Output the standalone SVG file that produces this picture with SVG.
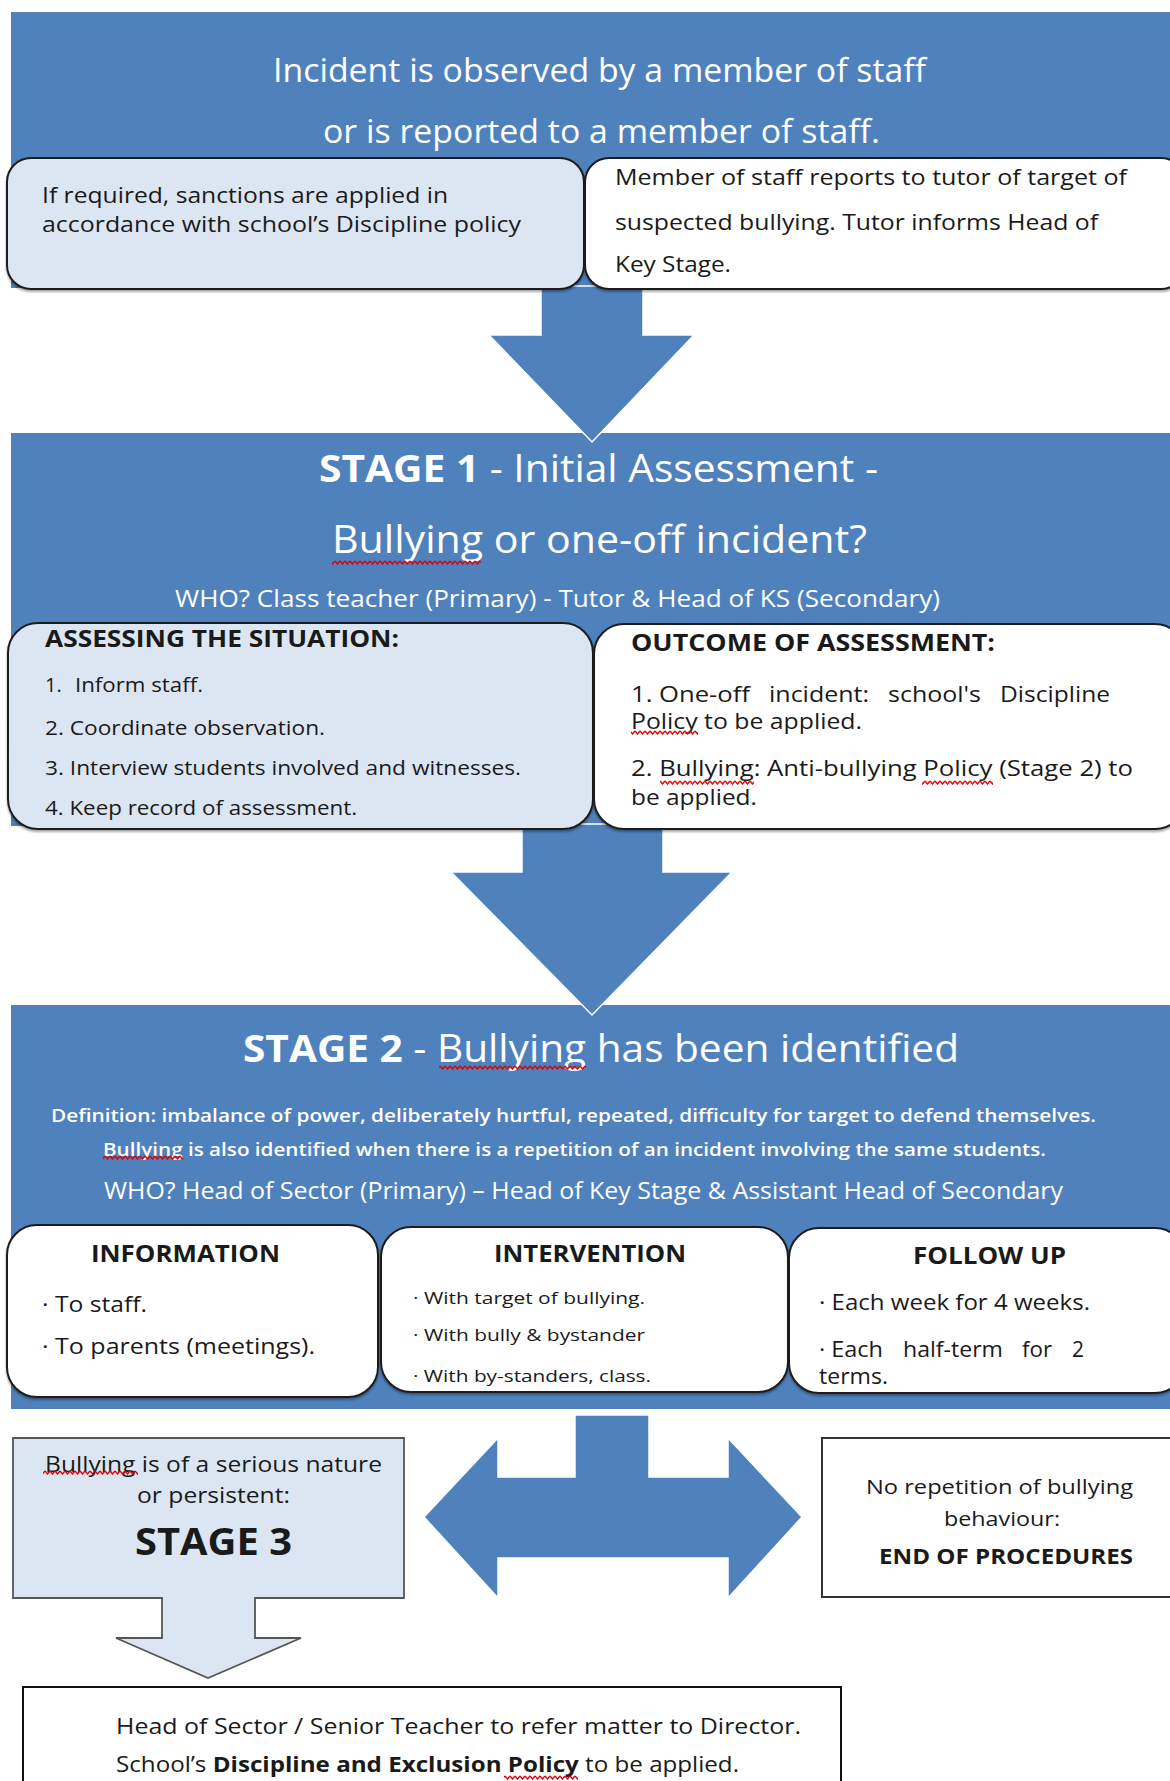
<svg xmlns="http://www.w3.org/2000/svg" width="1170" height="1781" viewBox="0 0 1170 1781">
<defs>
<style>
text{font-family:"Open Sans","Liberation Sans",sans-serif;}
.band{fill:#4f81bd}
.w{fill:#ffffff}
.d{fill:#1a1a1a}
.b{font-weight:700}
.box{stroke:#1e1e1e;stroke-width:2;filter:url(#sh)}
.lt{fill:#dce6f2}
.wt{fill:#ffffff}
.arrow{fill:#4f81bd;stroke:#ffffff;stroke-width:1.5}
.sq{fill:url(#sq)}
</style>
<filter id="sh" x="-5%" y="-5%" width="110%" height="120%"><feDropShadow dx="0" dy="2" stdDeviation="1.2" flood-color="#000" flood-opacity="0.35"/></filter>
<pattern id="sq" width="5" height="5" patternUnits="userSpaceOnUse"><path d="M0 1 L2.5 4 L5 1" fill="none" stroke="#e00000" stroke-width="1.4"/></pattern>
</defs>

<g id="band-incident">
<rect class="band" x="11" y="12" width="1170" height="276"/>
<text class="w" x="273" y="82" font-size="32" textLength="653" lengthAdjust="spacingAndGlyphs">Incident is observed by a member of staff</text>
<text class="w" x="323" y="143" font-size="32" textLength="557" lengthAdjust="spacingAndGlyphs">or is reported to a member of staff.</text>
</g>

<g id="band-stage1">
<rect class="band" x="11" y="433" width="1170" height="393"/>
<text class="w" x="319" y="482" font-size="38" textLength="559" lengthAdjust="spacingAndGlyphs"><tspan class="b">STAGE 1</tspan> - Initial Assessment -</text>
<text class="w" x="332" y="553" font-size="38" textLength="535" lengthAdjust="spacingAndGlyphs">Bullying or one-off incident?</text>
<rect class="sq" x="332" y="560" width="149" height="5"/>
<text class="w" x="175" y="607" font-size="23" textLength="765" lengthAdjust="spacingAndGlyphs">WHO? Class teacher (Primary) - Tutor &amp; Head of KS (Secondary)</text>
</g>

<g id="band-stage2">
<rect class="band" x="11" y="1005" width="1170" height="404"/>
<text class="w" x="243" y="1062" font-size="38" textLength="716" lengthAdjust="spacingAndGlyphs"><tspan class="b">STAGE 2</tspan> - Bullying has been identified</text>
<rect class="sq" x="439" y="1065" width="147" height="5"/>
<text class="w" x="51" y="1122" font-size="18" font-weight="600" textLength="1045" lengthAdjust="spacingAndGlyphs">Definition: imbalance of power, deliberately hurtful, repeated, difficulty for target to defend themselves.</text>
<text class="w" x="103" y="1156" font-size="18" font-weight="600" textLength="943" lengthAdjust="spacingAndGlyphs">Bullying is also identified when there is a repetition of an incident involving the same students.</text>
<rect class="sq" x="103" y="1155" width="80" height="5"/>
<text class="w" x="104" y="1199" font-size="23" textLength="959" lengthAdjust="spacingAndGlyphs">WHO? Head of Sector (Primary) – Head of Key Stage &amp; Assistant Head of Secondary</text>
</g>

<g id="connectors">
<polygon class="arrow" points="541,286 643,286 643,335 694,335 592,442 489,335 541,335"/>
<polygon class="arrow" points="522,824 663,824 663,872 732,872 592,1015 451,872 522,872"/>
<polygon class="arrow" points="575,1415 649,1415 649,1477 728,1477 728,1438 802,1517 728,1598 728,1558 498,1558 498,1598 424,1517 498,1438 498,1477 575,1477"/>
</g>

<g id="sanctions">
<rect class="box lt" x="7" y="158" width="577" height="131" rx="24"/>
<text class="d" x="42" y="203" font-size="22" textLength="406" lengthAdjust="spacingAndGlyphs">If required, sanctions are applied in</text>
<text class="d" x="42" y="232" font-size="22" textLength="479" lengthAdjust="spacingAndGlyphs">accordance with school’s Discipline policy</text>
</g>

<g id="report-tutor">
<rect class="box wt" x="585" y="158" width="600" height="131" rx="24"/>
<text class="d" x="615" y="185" font-size="22" textLength="512" lengthAdjust="spacingAndGlyphs">Member of staff reports to tutor of target of</text>
<text class="d" x="615" y="230" font-size="22" textLength="483" lengthAdjust="spacingAndGlyphs">suspected bullying. Tutor informs Head of</text>
<text class="d" x="615" y="272" font-size="22" textLength="116" lengthAdjust="spacingAndGlyphs">Key Stage.</text>
</g>

<g id="assessing">
<rect class="box lt" x="8" y="623" width="585" height="206" rx="30"/>
<text class="d b" x="45" y="647" font-size="24" textLength="354" lengthAdjust="spacingAndGlyphs">ASSESSING THE SITUATION:</text>
<text class="d" y="692" font-size="20"><tspan x="45">1.</tspan><tspan x="75" textLength="128" lengthAdjust="spacingAndGlyphs">Inform staff.</tspan></text>
<text class="d" x="45" y="735" font-size="20" textLength="280" lengthAdjust="spacingAndGlyphs">2. Coordinate observation.</text>
<text class="d" x="45" y="775" font-size="20" textLength="476" lengthAdjust="spacingAndGlyphs">3. Interview students involved and witnesses.</text>
<text class="d" x="45" y="815" font-size="20" textLength="312" lengthAdjust="spacingAndGlyphs">4. Keep record of assessment.</text>
</g>

<g id="outcome">
<rect class="box wt" x="594" y="624" width="591" height="205" rx="30"/>
<text class="d b" x="631" y="651" font-size="24" textLength="364" lengthAdjust="spacingAndGlyphs">OUTCOME OF ASSESSMENT:</text>
<text class="d" y="702" font-size="21"><tspan x="631" textLength="119" lengthAdjust="spacingAndGlyphs">1. One-off</tspan><tspan x="769" textLength="100" lengthAdjust="spacingAndGlyphs">incident:</tspan><tspan x="888" textLength="93" lengthAdjust="spacingAndGlyphs">school's</tspan><tspan x="1000" textLength="110" lengthAdjust="spacingAndGlyphs">Discipline</tspan></text>
<text class="d" x="631" y="729" font-size="21" textLength="231" lengthAdjust="spacingAndGlyphs">Policy to be applied.</text>
<rect class="sq" x="631" y="730" width="67" height="5"/>
<text class="d" x="631" y="776" font-size="21" textLength="502" lengthAdjust="spacingAndGlyphs">2. Bullying: Anti-bullying Policy (Stage 2) to</text>
<rect class="sq" x="660" y="780" width="94" height="5"/>
<rect class="sq" x="922" y="780" width="71" height="5"/>
<text class="d" x="631" y="805" font-size="21" textLength="126" lengthAdjust="spacingAndGlyphs">be applied.</text>
</g>

<g id="information">
<rect class="box wt" x="7" y="1225" width="371" height="172" rx="30"/>
<text class="d b" x="91" y="1262" font-size="23" textLength="189" lengthAdjust="spacingAndGlyphs">INFORMATION</text>
<text class="d" x="42" y="1312" font-size="22" textLength="105" lengthAdjust="spacingAndGlyphs">· To staff.</text>
<text class="d" x="42" y="1354" font-size="22" textLength="273" lengthAdjust="spacingAndGlyphs">· To parents (meetings).</text>
</g>

<g id="intervention">
<rect class="box wt" x="381" y="1227" width="407" height="165" rx="30"/>
<text class="d b" x="494" y="1262" font-size="23" textLength="192" lengthAdjust="spacingAndGlyphs">INTERVENTION</text>
<text class="d" x="413" y="1304" font-size="17" textLength="232" lengthAdjust="spacingAndGlyphs">· With target of bullying.</text>
<text class="d" x="413" y="1341" font-size="17" textLength="232" lengthAdjust="spacingAndGlyphs">· With bully &amp; bystander</text>
<text class="d" x="413" y="1382" font-size="17" textLength="238" lengthAdjust="spacingAndGlyphs">· With by-standers, class.</text>
</g>

<g id="follow-up">
<rect class="box wt" x="789" y="1228" width="396" height="165" rx="30"/>
<text class="d b" x="913" y="1264" font-size="23" textLength="153" lengthAdjust="spacingAndGlyphs">FOLLOW UP</text>
<text class="d" x="819" y="1310" font-size="21" textLength="271" lengthAdjust="spacingAndGlyphs">· Each week for 4 weeks.</text>
<text class="d" y="1357" font-size="21"><tspan x="819" textLength="64" lengthAdjust="spacingAndGlyphs">· Each</tspan><tspan x="903" textLength="100" lengthAdjust="spacingAndGlyphs">half-term</tspan><tspan x="1022" textLength="30" lengthAdjust="spacingAndGlyphs">for</tspan><tspan x="1072">2</tspan></text>
<text class="d" x="819" y="1384" font-size="21" textLength="69" lengthAdjust="spacingAndGlyphs">terms.</text>
</g>

<g id="stage3">
<path d="M13,1438 H404 V1598 H255 V1638 H301 L208,1678 L116,1638 H162 V1598 H13 Z" fill="#dce6f2" stroke="#555555" stroke-width="1.8" stroke-linejoin="miter"/>
<text class="d" x="45" y="1472" font-size="22" textLength="337" lengthAdjust="spacingAndGlyphs">Bullying is of a serious nature</text>
<rect class="sq" x="43" y="1470" width="95" height="5"/>
<text class="d" x="137" y="1503" font-size="22" textLength="153" lengthAdjust="spacingAndGlyphs">or persistent:</text>
<text class="d b" x="135" y="1555" font-size="38" textLength="157" lengthAdjust="spacingAndGlyphs">STAGE 3</text>
</g>

<g id="end-of-procedures">
<rect x="822" y="1438" width="360" height="159" fill="#ffffff" stroke="#333333" stroke-width="2"/>
<text class="d" x="866" y="1494" font-size="20" textLength="267" lengthAdjust="spacingAndGlyphs">No repetition of bullying</text>
<text class="d" x="944" y="1526" font-size="20" textLength="116" lengthAdjust="spacingAndGlyphs">behaviour:</text>
<text class="d b" x="879" y="1564" font-size="21" textLength="254" lengthAdjust="spacingAndGlyphs">END OF PROCEDURES</text>
</g>

<g id="director">
<rect x="23" y="1687" width="818" height="120" fill="#ffffff" stroke="#111111" stroke-width="2"/>
<text class="d" x="116" y="1734" font-size="22" textLength="685" lengthAdjust="spacingAndGlyphs">Head of Sector / Senior Teacher to refer matter to Director.</text>
<text class="d" x="116" y="1772" font-size="22" textLength="623" lengthAdjust="spacingAndGlyphs">School’s <tspan class="b">Discipline and Exclusion Policy</tspan> to be applied.</text>
<rect class="sq" x="504" y="1775" width="74" height="5"/>
</g>
</svg>
